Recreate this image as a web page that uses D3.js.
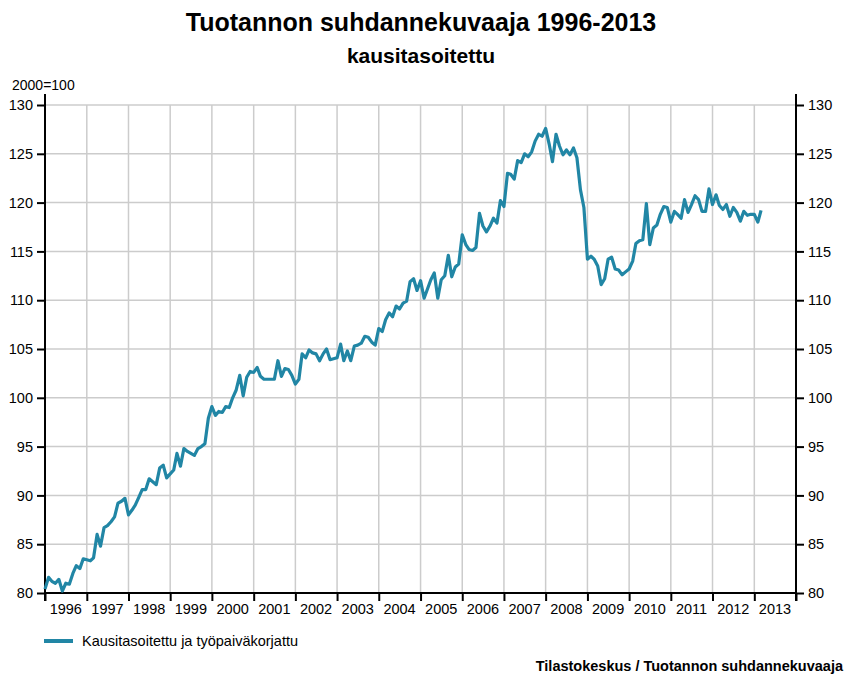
<!DOCTYPE html>
<html>
<head>
<meta charset="utf-8">
<script src="https://cdn.jsdelivr.net/npm/d3@7"></script>
<style>
  body { margin: 0; background: #fff; }
  text { font-family: "Liberation Sans", Arial, sans-serif; }
</style>
</head>
<body>
<div id="chart"></div>
<script>
// Monthly values, 2000=100, Jan 1996 .. Mar 2013
const v1996 = [80.4, 81.6, 81.2, 81.0, 81.4, 80.2, 81.0, 80.9, 82.0, 82.8, 82.5, 83.5];
const v1997 = [83.4, 83.3, 83.6, 86.0, 84.8, 86.7, 86.9, 87.3, 87.8, 89.2, 89.4, 89.7];
const v1998 = [88.0, 88.5, 89.0, 89.8, 90.6, 90.6, 91.7, 91.4, 91.1, 92.8, 93.1, 91.8];
const v1999 = [92.2, 92.6, 94.3, 93.0, 94.8, 94.5, 94.3, 94.1, 94.8, 95.0, 95.3, 97.9];
const v2000 = [99.1, 98.2, 98.6, 98.5, 99.1, 99.0, 100.0, 100.8, 102.3, 100.2, 102.1, 102.7];
const v2001 = [102.6, 103.1, 102.2, 101.9, 101.9, 101.9, 101.9, 103.8, 102.2, 103.0, 102.9, 102.3];
const v2002 = [101.4, 101.9, 104.5, 104.1, 104.9, 104.6, 104.5, 103.8, 104.5, 105.0, 103.9, 104.0];
const v2003 = [104.1, 105.5, 103.8, 104.8, 103.8, 105.3, 105.4, 105.6, 106.3, 106.2, 105.7, 105.4];
const v2004 = [107.1, 106.8, 108.0, 108.7, 108.3, 109.4, 109.1, 109.7, 109.9, 111.9, 112.2, 111.0];
const v2005 = [112.0, 110.2, 111.1, 112.1, 112.8, 110.2, 112.1, 112.5, 114.6, 112.4, 113.4, 113.7];
const v2006 = [116.7, 115.7, 115.2, 115.1, 115.4, 118.9, 117.6, 117.0, 117.6, 118.4, 117.9, 120.2];
const v2007 = [119.6, 123.0, 122.9, 122.4, 124.3, 124.1, 125.0, 124.7, 125.2, 126.3, 127.0, 126.8];
const v2008 = [127.6, 126.0, 124.2, 127.0, 125.8, 124.9, 125.4, 124.9, 125.6, 124.6, 121.3, 119.5];
const v2009 = [114.2, 114.5, 114.2, 113.5, 111.6, 112.2, 114.2, 114.4, 113.2, 113.1, 112.6, 112.9];
const v2010 = [113.2, 114.0, 115.8, 116.1, 116.2, 119.9, 115.7, 117.4, 117.7, 118.8, 119.6, 119.5];
const v2011 = [118.0, 119.1, 118.8, 118.4, 120.3, 119.0, 119.8, 120.7, 120.3, 119.1, 119.1, 121.4];
const v2012 = [119.8, 120.8, 119.7, 119.3, 119.8, 118.6, 119.5, 119.0, 118.1, 119.1, 118.7, 118.8];
const v2013 = [118.8, 118.0, 119.2];

const years = d3.range(1996, 2014);
const yTicks = [80, 85, 90, 95, 100, 105, 110, 115, 120, 125, 130];
const seriesName = "Kausitasoitettu ja työpaiväkorjattu";

const values = [].concat(v1996, v1997, v1998, v1999, v2000, v2001, v2002, v2003,
  v2004, v2005, v2006, v2007, v2008, v2009, v2010, v2011, v2012, v2013);
const data = values.map((v, i) => ({date: new Date(1996, i, 1), value: v}));

const W = 845, H = 675;
const plot = {left: 45, right: 796, top: 105, bottom: 593};
const smallFont = "14.5px";

const svg = d3.select("#chart").append("svg")
  .attr("width", W).attr("height", H);

const x = d3.scaleTime()
  .domain([new Date(1996, 0, 1), new Date(2014, 0, 1)])
  .range([plot.left, plot.right]);
const y = d3.scaleLinear()
  .domain([80, 130])
  .range([plot.bottom, plot.top]);

// Titles
svg.append("text")
  .attr("x", 421).attr("y", 31)
  .attr("text-anchor", "middle")
  .style("font-size", "25px").style("font-weight", "bold")
  .text("Tuotannon suhdannekuvaaja 1996-2013");
svg.append("text")
  .attr("x", 421).attr("y", 63)
  .attr("text-anchor", "middle")
  .style("font-size", "21px").style("font-weight", "bold")
  .text("kausitasoitettu");
svg.append("text")
  .attr("x", 12).attr("y", 90)
  .style("font-size", "14px")
  .text("2000=100");

// Grid
svg.append("g").selectAll("line")
  .data(yTicks.slice(1)).enter().append("line")
    .attr("x1", plot.left).attr("x2", plot.right)
    .attr("y1", d => y(d)).attr("y2", d => y(d))
    .style("stroke", "#cccccc").style("stroke-width", 1.5);
svg.append("g").selectAll("line")
  .data(years.slice(1)).enter().append("line")
    .attr("x1", d => x(new Date(d, 0, 1))).attr("x2", d => x(new Date(d, 0, 1)))
    .attr("y1", plot.top).attr("y2", plot.bottom)
    .style("stroke", "#cccccc").style("stroke-width", 1.5);

// Axes
const axisL = svg.append("g")
  .attr("transform", `translate(${plot.left},0)`)
  .call(d3.axisLeft(y).tickValues(yTicks).tickSize(8).tickPadding(4));
const axisR = svg.append("g")
  .attr("transform", `translate(${plot.right},0)`)
  .call(d3.axisRight(y).tickValues(yTicks).tickSize(8).tickPadding(4));
const axisB = svg.append("g")
  .attr("transform", `translate(0,${plot.bottom})`)
  .call(d3.axisBottom(x)
    .tickValues(years.concat([2014]).map(d => new Date(d, 0, 1)))
    .tickSize(8).tickFormat(""));
[axisL, axisR, axisB].forEach(a => {
  a.select(".domain").remove();
  a.selectAll(".tick line").style("stroke", "#000").style("stroke-width", 2);
  a.selectAll("text").style("font-size", smallFont).style("fill", "#000")
    .style("font-family", "'Liberation Sans', Arial, sans-serif");
});
svg.append("line").attr("x1", plot.left).attr("x2", plot.left)
  .attr("y1", 94).attr("y2", plot.bottom + 8)
  .style("stroke", "#000").style("stroke-width", 2);
svg.append("line").attr("x1", plot.right).attr("x2", plot.right)
  .attr("y1", 94).attr("y2", plot.bottom + 8)
  .style("stroke", "#000").style("stroke-width", 2);
svg.append("line").attr("x1", plot.left).attr("x2", plot.right)
  .attr("y1", plot.bottom).attr("y2", plot.bottom)
  .style("stroke", "#000").style("stroke-width", 2);

// Year labels centered within each year
svg.append("g").selectAll("text")
  .data(years).enter().append("text")
    .attr("x", d => x(new Date(d, 6, 1)))
    .attr("y", plot.bottom + 21)
    .attr("text-anchor", "middle")
    .style("font-size", smallFont)
    .text(d => d);

// Line
const line = d3.line()
  .x(d => x(d.date))
  .y(d => y(d.value));
svg.append("path")
  .datum(data)
  .attr("d", line)
  .style("fill", "none")
  .style("stroke", "#2186a5")
  .style("stroke-width", 3.2)
  .style("stroke-linejoin", "round");

// Legend
svg.append("line")
  .attr("x1", 44).attr("x2", 73).attr("y1", 641).attr("y2", 641)
  .style("stroke", "#2186a5").style("stroke-width", 4);
svg.append("text")
  .attr("x", 82).attr("y", 646)
  .style("font-size", smallFont)
  .text(seriesName);

// Source
svg.append("text")
  .attr("x", 843).attr("y", 671)
  .attr("text-anchor", "end")
  .style("font-size", "14.5px").style("font-weight", "bold")
  .text("Tilastokeskus / Tuotannon suhdannekuvaaja");
</script>
</body>
</html>
